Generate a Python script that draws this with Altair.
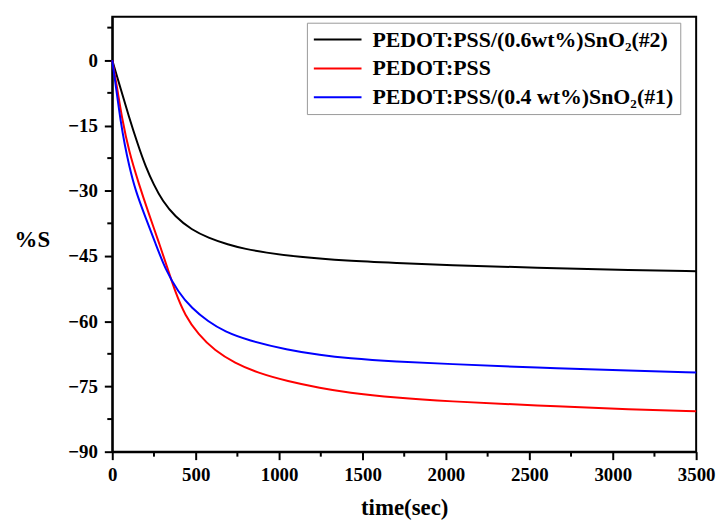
import altair as alt
import pandas as pd

# Series labels
s_black = "PEDOT:PSS/(0.6wt%)SnO₂(#2)"
s_red = "PEDOT:PSS"
s_blue = "PEDOT:PSS/(0.4 wt%)SnO₂(#1)"

black_t = [0, 50, 100, 150, 200, 250, 300, 377, 476, 575, 694, 800, 912, 1110, 1407, 1705, 2002, 2537, 3131, 3500]
black_v = [0, -6.5, -13.0, -19.0, -24.5, -28.7, -32.3, -36.0, -39.0, -40.8, -42.4, -43.4, -44.2, -45.2, -46.1, -46.6, -47.1, -47.7, -48.3, -48.5]

red_t = [0, 30, 58, 100, 159, 218, 278, 337, 377, 436, 515, 615, 734, 872, 1050, 1250, 1407, 1705, 2002, 2537, 3131, 3500]
red_v = [0, -6.5, -13.3, -21.0, -28.4, -35.2, -41.7, -48.5, -53.2, -58.7, -63.0, -66.8, -69.6, -71.9, -73.8, -75.4, -76.4, -77.6, -78.4, -79.4, -80.3, -80.7]

blue_t = [0, 25, 50, 75, 99, 139, 198, 258, 317, 397, 476, 575, 674, 813, 1050, 1250, 1407, 1705, 2002, 2537, 3131, 3500]
blue_v = [0, -7.0, -14.0, -19.5, -23.9, -30.0, -36.0, -42.0, -48.0, -53.4, -57.0, -60.1, -62.4, -64.4, -66.6, -67.8, -68.5, -69.3, -69.8, -70.7, -71.4, -71.8]

x_major = [0, 500, 1000, 1500, 2000, 2500, 3000, 3500]
x_minor = [250, 750, 1250, 1750, 2250, 2750, 3250]
y_major = [0, -15, -30, -45, -60, -75, -90]
y_minor = [7.5, -7.5, -22.5, -37.5, -52.5, -67.5, -82.5]

rows = []
for name, ts, vs in [(s_black, black_t, black_v), (s_red, red_t, red_v), (s_blue, blue_t, blue_v)]:
    for t, v in zip(ts, vs):
        rows.append({"series": name, "t": t, "v": v})
df = pd.DataFrame(rows)

FONT = "Liberation Serif, Times New Roman, DejaVu Serif, serif"

xscale = alt.Scale(domain=[0, 3500], nice=False, zero=False)
yscale = alt.Scale(domain=[-90, 10], nice=False, zero=False)

color = alt.Color(
    "series:N",
    scale=alt.Scale(domain=[s_black, s_red, s_blue], range=["#000000", "#ff0000", "#0000ff"]),
    legend=alt.Legend(
        title=None, orient="none", legendX=196, legendY=6,
        symbolType="stroke", symbolSize=2304, symbolStrokeWidth=2,
        clipHeight=22,
        labelFont=FONT, labelFontWeight="bold", labelFontSize=22, labelColor="black",
        labelOffset=10, rowPadding=7, padding=6, labelLimit=400,
        strokeColor="#999999", fillColor="white",
    ),
)

main = alt.Chart(df).mark_line(strokeWidth=2, interpolate="basis").encode(
    x=alt.X("t:Q", scale=xscale, axis=alt.Axis(
        title="time(sec)", values=x_major, format="d", tickSize=8, tickWidth=2, domainWidth=2,
        labelFont=FONT, labelFontWeight="bold", labelFontSize=19, labelPadding=6,
        titleFont=FONT, titleFontWeight="bold", titleFontSize=23, titlePadding=12,
        grid=False, labelFlush=False, labelColor="black", titleColor="black",
        domainColor="black", tickColor="black")),
    y=alt.Y("v:Q", scale=yscale, axis=alt.Axis(
        title="%S", values=y_major, format="d", tickSize=8, tickWidth=2, domainWidth=2,
        labelFont=FONT, labelFontWeight="bold", labelFontSize=19, labelPadding=7,
        titleFont=FONT, titleFontWeight="bold", titleFontSize=23,
        titleAngle=0, titleX=-81, titleY=224, titleAlign="center", titleBaseline="middle",
        grid=False, labelFlush=False, labelColor="black", titleColor="black",
        domainColor="black", tickColor="black")),
    color=color,
    order=alt.Order("t:Q"),
)

xminor_df = pd.DataFrame({"t": x_minor})
yminor_df = pd.DataFrame({"v": y_minor})

xminor = alt.Chart(xminor_df).mark_rule(color="black", strokeWidth=2).encode(
    x=alt.X("t:Q", scale=xscale),
    y=alt.value(438),
    y2=alt.value(443),
)
yminor = alt.Chart(yminor_df).mark_rule(color="black", strokeWidth=2).encode(
    y=alt.Y("v:Q", scale=yscale),
    x=alt.value(0),
    x2=alt.value(-5),
)

chart = alt.layer(main, xminor, yminor).properties(
    width=588, height=438,
    autosize=alt.AutoSizeParams(type="none"),
    padding={"left": 105, "top": 7, "right": 22, "bottom": 70},
).configure_view(stroke="black", strokeWidth=2)

chart.save("out.html", embed_options={"renderer": "svg", "actions": False})
